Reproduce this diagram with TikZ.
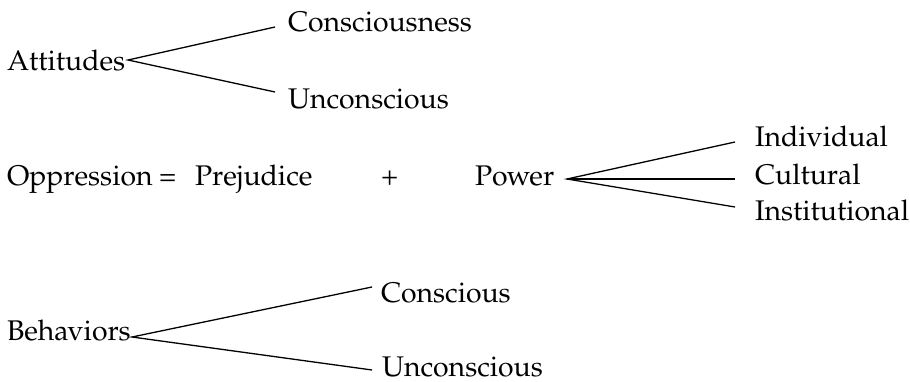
\documentclass[tikz,border=0pt]{standalone}
\usepackage[T1]{fontenc}
\usepackage{mathpazo}
\begin{document}
\begin{tikzpicture}[x=1pt,y=-1pt,
  lbl/.style={anchor=base west,inner sep=0pt,outer sep=0pt,font=\fontfamily{pplx}\fontsize{28.4}{30}\selectfont},
  conn/.style={line width=1.3pt,black}]
\useasboundingbox (0,0) rectangle (910,382);
% top group
\node[lbl] (att) at (7,71) {Attitudes};
\node[lbl] (csn) at (288,32) {Consciousness};
\node[lbl] (unc1) at (288,109) {Unconscious};
\coordinate (attA) at (128,60);
\coordinate (csnE) at (275,27);
\coordinate (unc1E) at (275,92);
\draw[conn] (csnE) -- (attA) -- (unc1E);
% middle row
\node[lbl] (opp) at (7,186) {Oppression};
\node[lbl] (eq) at (159,186) {=};
\node[lbl] (pre) at (195,186) {Prejudice};
\node[lbl] (plus) at (381,186) {+};
\node[lbl] (pow) at (475,186) {Power};
\node[lbl] (ind) at (755,147) {Individual};
\node[lbl] (cul) at (755,185) {Cultural};
\node[lbl] (ins) at (755,221) {Institutional};
\coordinate (powA) at (567,179);
\coordinate (indE) at (735,142);
\coordinate (culE) at (735,179);
\coordinate (insE) at (735,207);
\draw[conn] (indE) -- (powA) -- (insE);
\draw[conn] (powA) -- (culE);
% bottom group
\node[lbl] (beh) at (7,340) {Behaviors};
\node[lbl] (con) at (381,302) {Conscious};
\node[lbl] (unc2) at (382,376) {Unconscious};
\coordinate (behA) at (132,337);
\coordinate (conE) at (372,287);
\coordinate (unc2E) at (372,370);
\draw[conn] (conE) -- (behA) -- (unc2E);
\end{tikzpicture}
\end{document}
